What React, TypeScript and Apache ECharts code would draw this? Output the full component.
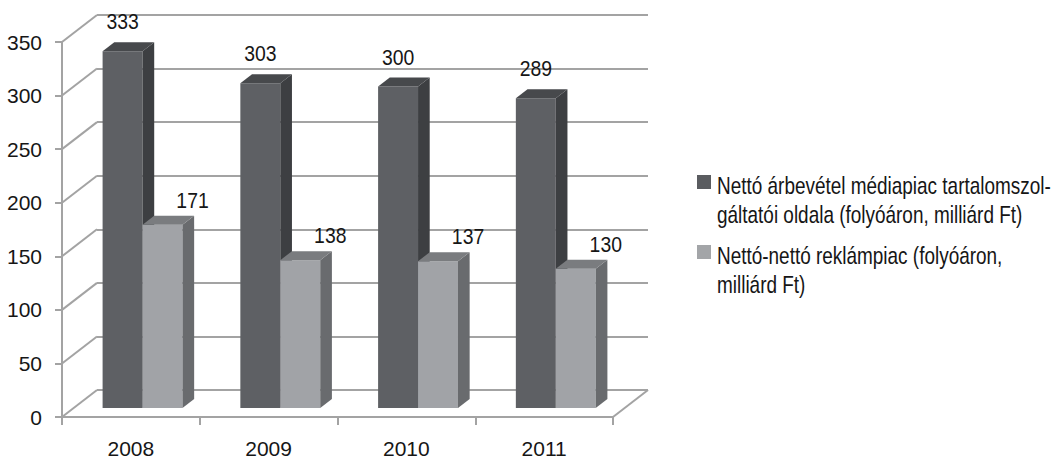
import React, { useEffect, useRef } from "react";
import * as echarts from "echarts";

const categories = ["2008", "2009", "2010", "2011"];
const revenueSeries = [333, 303, 300, 289];
const adMarketSeries = [171, 138, 137, 130];
const yTicks = [0, 50, 100, 150, 200, 250, 300, 350];
const legendNames = [
  "Nettó árbevétel médiapiac tartalomszol-\ngáltatói oldala (folyóáron, milliárd Ft)",
  "Nettó-nettó reklámpiac (folyóáron,\nmilliárd Ft)",
];

const FONT = "'Liberation Sans', Arial, sans-serif";
const DX = 35; // depth offset (px) of back wall
const DY = -27;
const GRID_COLOR = "#a3a3a3";
const TEXT_COLOR = "#161616";

const palettes = [
  { front: "#5e6064", side: "#3d3f42", top: "#47494c", legend: "#5a5c60" },
  { front: "#a1a3a7", side: "#696b6e", top: "#7a7c7f", legend: "#a3a5a8" },
];

function barRenderer(seriesIdx: number) {
  return (params: any, api: any) => {
    const ci = api.value(0);
    const v = api.value(1);
    const top = api.coord([ci, v]);
    const base = api.coord([ci, 0]);
    const band = api.size([1, 0])[0];
    const bw = band * 0.29;
    const dx = DX / 3;
    const dy = DY / 3;
    const x0 = (seriesIdx === 0 ? top[0] - bw : top[0]) + dx;
    const x1 = x0 + bw;
    const yt = top[1] + dy;
    const yb = base[1] + dy;
    const pal = palettes[seriesIdx];
    const cx = (x0 + x1) / 2;
    const label =
      seriesIdx === 0
        ? { x: cx, y: yt - 30 }
        : { x: cx + 30, y: yt - 25 };
    return {
      type: "group",
      children: [
        {
          type: "rect",
          shape: { x: x0, y: yt, width: bw, height: yb - yt },
          style: { fill: pal.front },
        },
        {
          type: "polygon",
          shape: { points: [[x1, yt], [x1 + dx, yt + dy], [x1 + dx, yb + dy], [x1, yb]] },
          style: { fill: pal.side },
        },
        {
          type: "polygon",
          shape: { points: [[x0, yt], [x1, yt], [x1 + dx, yt + dy], [x0 + dx, yt + dy]] },
          style: { fill: pal.top },
        },
        {
          type: "text",
          x: label.x,
          y: label.y,
          scaleX: 0.88,
          style: {
            text: String(v),
            fill: TEXT_COLOR,
            font: `22px ${FONT}`,
            align: "center",
            verticalAlign: "middle",
          },
        },
      ],
    };
  };
}

function wallRenderer(params: any, api: any) {
  const v = api.value(1);
  const p = api.coord([0, v]);
  const cs = params.coordSys;
  const x = cs.x;
  const children: any[] = [
    {
      type: "line",
      shape: { x1: x, y1: p[1], x2: x + DX, y2: p[1] + DY },
      style: { stroke: GRID_COLOR, lineWidth: 2 },
    },
  ];
  if (v === 0) {
    const xr = cs.x + cs.width;
    children.push({
      type: "line",
      shape: { x1: xr, y1: p[1], x2: xr + DX, y2: p[1] + DY },
      style: { stroke: GRID_COLOR, lineWidth: 2 },
    });
  }
  return { type: "group", children };
}

export default function App() {
  const ref = useRef<HTMLDivElement>(null);
  useEffect(() => {
    document.body.style.margin = "0";
    const chart = echarts.init(ref.current!, null, { renderer: "svg" });
    const frontGrid = { left: 62, right: 1053 - 613, top: 42, bottom: 461 - 417 };
    const backGrid = {
      left: 62 + DX,
      right: 1053 - 613 - DX,
      top: 42 + DY,
      bottom: 461 - 417 - DY,
    };
    const yBase = { type: "value", min: 0, max: 350, interval: 50 };
    const legendItems: any[] = [];
    const legendTops = [175, 245];
    legendNames.forEach((name, i) => {
      legendItems.push({
        type: "rect",
        x: 697,
        y: legendTops[i],
        shape: { x: 0, y: 0, width: 14, height: 14 },
        style: { fill: palettes[i].legend },
      });
      legendItems.push({
        type: "text",
        x: 717,
        y: legendTops[i] - 4,
        scaleX: 0.79,
        style: {
          text: name,
          fill: TEXT_COLOR,
          font: `24px ${FONT}`,
          lineHeight: 29,
          verticalAlign: "top",
        },
      });
    });

    chart.setOption({
      animation: false,
      backgroundColor: "#ffffff",
      grid: [
        { ...frontGrid, containLabel: false },
        { ...backGrid, containLabel: false },
      ],
      xAxis: [
        {
          type: "category",
          gridIndex: 0,
          data: categories,
          boundaryGap: true,
          axisLine: { show: true, lineStyle: { color: GRID_COLOR, width: 2 } },
          axisTick: { show: true, length: 8, lineStyle: { color: GRID_COLOR, width: 2 } },
          axisLabel: { color: TEXT_COLOR, fontSize: 21, fontFamily: FONT, margin: 21 },
          splitLine: { show: false },
        },
        {
          type: "category",
          gridIndex: 1,
          data: categories,
          show: false,
        },
      ],
      yAxis: [
        {
          ...yBase,
          gridIndex: 0,
          axisLine: { show: true, lineStyle: { color: GRID_COLOR, width: 2 } },
          axisTick: { show: true, length: 7, lineStyle: { color: GRID_COLOR, width: 2 } },
          axisLabel: { color: TEXT_COLOR, fontSize: 21, fontFamily: FONT, margin: 20 },
          splitLine: { show: false },
        },
        {
          ...yBase,
          gridIndex: 1,
          axisLine: { show: false },
          axisTick: { show: false },
          axisLabel: { show: false },
          splitLine: { show: true, lineStyle: { color: GRID_COLOR, width: 2 } },
        },
      ],
      graphic: legendItems,
      series: [
        {
          type: "custom",
          name: "walls",
          xAxisIndex: 0,
          yAxisIndex: 0,
          renderItem: wallRenderer,
          data: yTicks.map((t) => [0, t]),
          silent: true,
          clip: false,
          z: 1,
        },
        {
          type: "custom",
          name: legendNames[0],
          xAxisIndex: 0,
          yAxisIndex: 0,
          renderItem: barRenderer(0),
          data: revenueSeries.map((v, i) => [i, v]),
          clip: false,
          z: 3,
        },
        {
          type: "custom",
          name: legendNames[1],
          xAxisIndex: 0,
          yAxisIndex: 0,
          renderItem: barRenderer(1),
          data: adMarketSeries.map((v, i) => [i, v]),
          clip: false,
          z: 4,
        },
      ],
    });
    return () => chart.dispose();
  }, []);
  return <div ref={ref} style={{ width: 1053, height: 461 }} />;
}
